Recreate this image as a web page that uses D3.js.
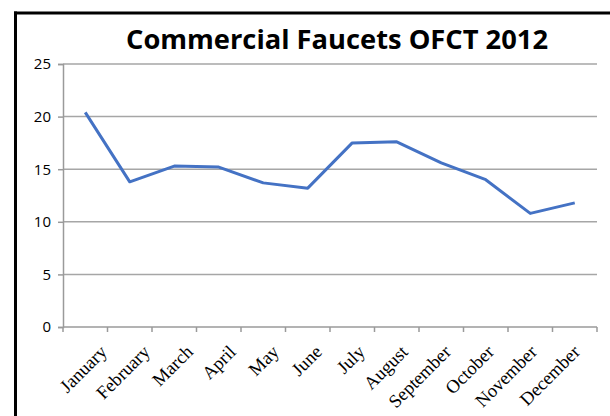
<!DOCTYPE html>
<html>
<head>
<meta charset="utf-8">
<script src="https://cdn.jsdelivr.net/npm/d3@7"></script>
<style>
  body { margin: 0; background: #fff; }
  svg { display: block; }
</style>
</head>
<body>
<svg id="chart"></svg>
<script>
WIDTH = 610;
HEIGHT = 416;
PLOT = { left: 63, right: 597, top: 64, bottom: 327 };

var months = ["January", "February", "March", "April", "May", "June",
              "July", "August", "September", "October", "November", "December"];
var values = [20.4, 13.8, 15.3, 15.2, 13.7, 13.2, 17.5, 17.6, 15.6, 14.0, 10.8, 11.8];
var yTicks = [0, 5, 10, 15, 20, 25];
var title = "Commercial Faucets OFCT 2012";

function buildChart() {
    var svg = d3.select("#chart")
        .attr("width", WIDTH)
        .attr("height", HEIGHT);

    // frame (top + left edge only, like the cropped screenshot)
    svg.append("line")
        .attr("x1", 14).attr("x2", WIDTH).attr("y1", 13).attr("y2", 13)
        .attr("stroke", "#000").attr("stroke-width", 3);
    svg.append("line")
        .attr("x1", 15.5).attr("x2", 15.5).attr("y1", 11.5).attr("y2", HEIGHT)
        .attr("stroke", "#000").attr("stroke-width", 3);

    var x = d3.scaleBand().domain(months).range([PLOT.left, PLOT.right]);
    var y = d3.scaleLinear().domain([0, 25]).range([PLOT.bottom, PLOT.top]);
    // excel squeezes the rotated labels a little, so they get their own scale
    var xLabel = d3.scalePoint().domain(months).range([108, 581]);

    svg.append("text")
        .attr("x", 337)
        .attr("y", 49)
        .attr("text-anchor", "middle")
        .attr("font-family", "'Open Sans', sans-serif")
        .attr("font-weight", "bold")
        .attr("font-size", 27)
        .attr("textLength", 422)
        .attr("lengthAdjust", "spacingAndGlyphs")
        .attr("fill", "#000")
        .text(title);

    // gridlines
    svg.append("g")
        .selectAll("line")
        .data(yTicks.filter(function(d) { return d > 0; }))
        .enter().append("line")
        .attr("x1", PLOT.left).attr("x2", PLOT.right)
        .attr("y1", function(d) { return y(d); })
        .attr("y2", function(d) { return y(d); })
        .attr("stroke", "#a6a6a6")
        .attr("stroke-width", 1.5);

    var yAxis = svg.append("g")
        .attr("transform", "translate(" + PLOT.left + ",0)")
        .call(d3.axisLeft(y).tickValues(yTicks).tickSize(5).tickPadding(7));
    yAxis.select(".domain").attr("stroke", "#9a9a9a").attr("stroke-width", 1.5);
    yAxis.selectAll(".tick line").attr("stroke", "#9a9a9a").attr("stroke-width", 1.5);
    yAxis.selectAll("text")
        .attr("font-family", "'Open Sans', sans-serif")
        .attr("font-size", 15)
        .attr("fill", "#000");

    // x axis: ticks at category boundaries
    var bounds = months.map(function(m) { return x(m); }).concat([PLOT.right]);
    svg.append("line")
        .attr("x1", PLOT.left).attr("x2", PLOT.right)
        .attr("y1", y(0)).attr("y2", y(0))
        .attr("stroke", "#9a9a9a").attr("stroke-width", 1.5);
    svg.append("g")
        .selectAll("line")
        .data(bounds)
        .enter().append("line")
        .attr("x1", function(d) { return d; })
        .attr("x2", function(d) { return d; })
        .attr("y1", y(0)).attr("y2", y(0) + 5)
        .attr("stroke", "#9a9a9a").attr("stroke-width", 1.5);

    svg.append("g")
        .selectAll("text")
        .data(months)
        .enter().append("text")
        .attr("transform", function(d) {
            return "translate(" + xLabel(d) + "," + (y(0) + 26) + ") rotate(-45)";
        })
        .attr("text-anchor", "end")
        .attr("font-family", "'Liberation Serif', 'Times New Roman', serif")
        .attr("font-size", 18.5)
        .attr("fill", "#000")
        .text(function(d) { return d; });

    var line = d3.line()
        .x(function(d, i) { return x(months[i]) + x.bandwidth() / 2; })
        .y(function(d) { return y(d); });

    svg.append("path")
        .datum(values)
        .attr("d", line)
        .attr("fill", "none")
        .attr("stroke", "#4472c4")
        .attr("stroke-width", 3)
        .attr("stroke-linejoin", "round");
}

buildChart();
</script>
</body>
</html>
